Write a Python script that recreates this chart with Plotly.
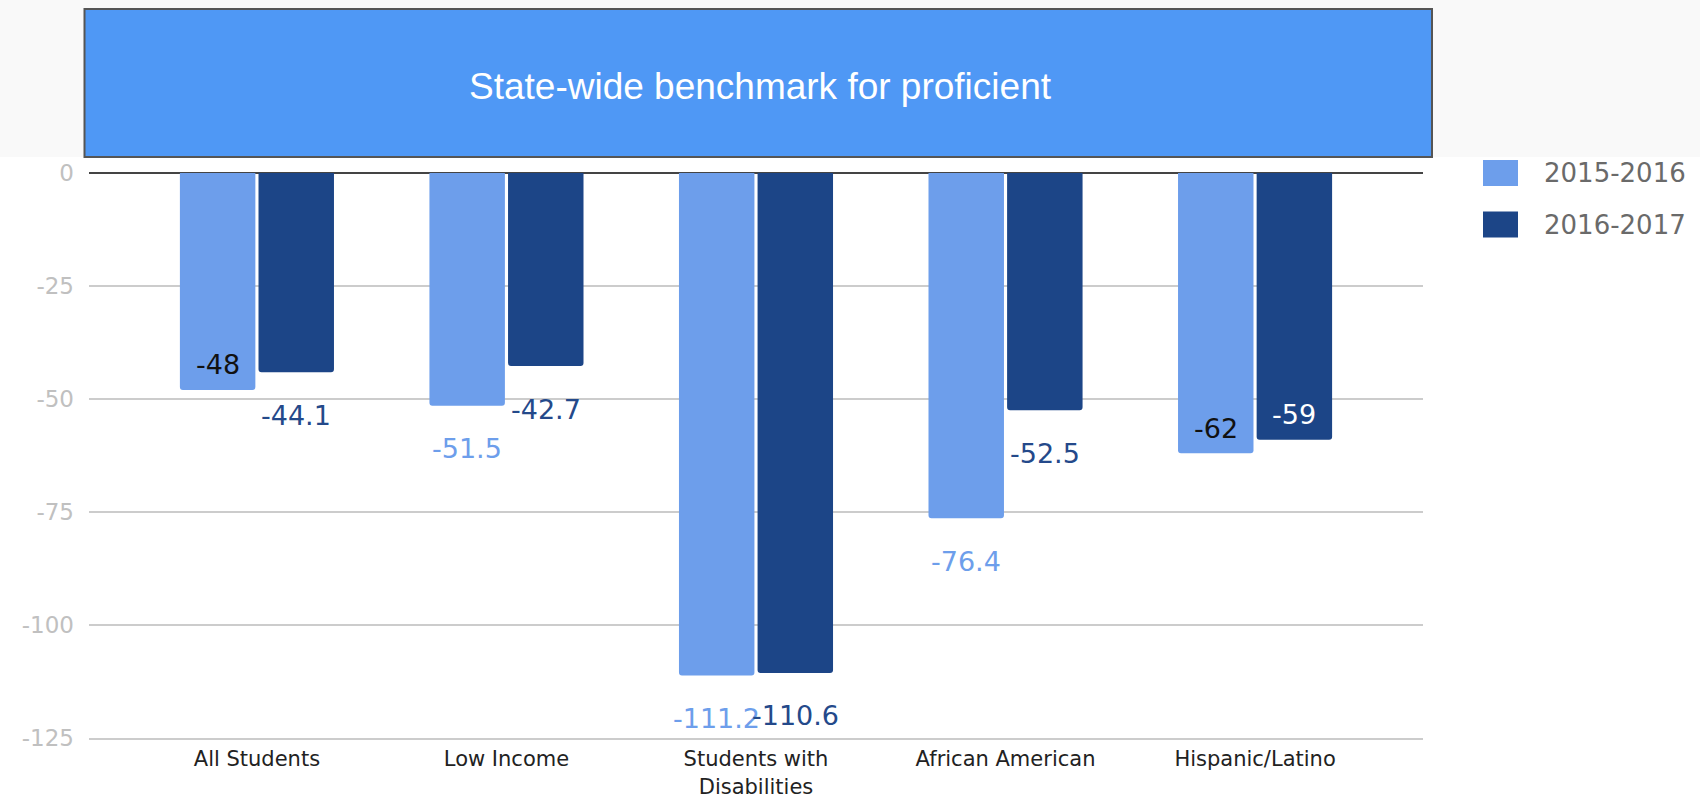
import plotly.graph_objects as go

# ---- data ----
categories = ["All Students", "Low Income", "Students with Disabilities",
              "African American", "Hispanic/Latino"]
x_tick_labels = ["All Students", "Low Income", "Students with<br>Disabilities",
                 "African American", "Hispanic/Latino"]
series_names = ["2015-2016", "2016-2017"]
values_2015_2016 = [-48, -51.5, -111.2, -76.4, -62]
values_2016_2017 = [-44.1, -42.7, -110.6, -52.5, -59]
y_tick_vals = [0, -25, -50, -75, -100, -125]
y_tick_text = ["0", "-25", "-50", "-75", "-100", "-125"]
banner_text = "State-wide benchmark for proficient"

# ---- styles ----
colors = ["#6d9eeb", "#1c4587"]
label_pos = [["inside", "outside", "outside", "outside", "inside"],
             ["outside", "outside", "outside", "outside", "inside"]]
inside_colors = ["#111111", "#ffffff"]
outside_colors = ["#6d9eeb", "#24498a"]

W, H = 1700, 801
ML, MR, MT, MB = 89, 277, 173, 63
PW, PH = W - ML - MR, H - MT - MB
BARGAP = 0.37
BARGROUPGAP = 0.04
XR = [-0.673, 4.673]
LABEL_FONT = "DejaVu Sans"

fig = go.Figure()
all_series = [values_2015_2016, values_2016_2017]
for k, (name, vals) in enumerate(zip(series_names, all_series)):
    fig.add_trace(go.Bar(
        x=categories, y=vals, name=name,
        marker=dict(color=colors[k], cornerradius=3, line=dict(width=0)),
        showlegend=False,
    ))

# data labels
annotations = []
offset = (1 - BARGAP) / 4
for k, vals in enumerate(all_series):
    for i, v in enumerate(vals):
        inside = label_pos[k][i] == "inside"
        annotations.append(dict(
            x=i + (-offset if k == 0 else offset), y=v, xref="x", yref="y",
            text=f"{v:g}", showarrow=False, xanchor="center", yanchor="middle",
            yshift=25 if inside else -43,
            font=dict(family=LABEL_FONT, size=27,
                      color=inside_colors[k] if inside else outside_colors[k]),
        ))

# banner text
annotations.append(dict(
    x=(760 - ML) / PW, y=1 + (MT - 86) / PH, xref="paper", yref="paper",
    text=banner_text, showarrow=False, xanchor="center", yanchor="middle",
    font=dict(family="Liberation Sans, Arial", size=37, color="#ffffff"),
))

# legend texts
legend_y = [173, 225]
for k, name in enumerate(series_names):
    annotations.append(dict(
        x=(1542 - ML) / PW, y=1 - (legend_y[k] - MT) / PH, xref="paper", yref="paper",
        text=name, showarrow=False, xanchor="left", yanchor="middle",
        font=dict(family=LABEL_FONT, size=26, color="#6a6a6a"),
    ))

shapes = []
# light top band
shapes.append(dict(type="rect", xref="paper", yref="paper",
                   xsizemode="pixel", ysizemode="pixel", xanchor=0, yanchor=1,
                   x0=-ML, x1=W - ML, y0=MT - 157, y1=MT + 2,
                   fillcolor="#f9f9f9", line=dict(width=0), layer="below"))
# banner box
shapes.append(dict(type="rect", xref="paper", yref="paper",
                   xsizemode="pixel", ysizemode="pixel", xanchor=0, yanchor=1,
                   x0=84.5 - ML, x1=1432 - ML, y0=MT - 157, y1=MT - 9,
                   fillcolor="#4f98f5", line=dict(color="#555555", width=2)))
# legend swatches
sw_top = [160, 211.5]
for k in range(2):
    shapes.append(dict(type="rect", xref="paper", yref="paper",
                       xsizemode="pixel", ysizemode="pixel", xanchor=0, yanchor=1,
                       x0=1483 - ML, x1=1518 - ML,
                       y0=MT - sw_top[k], y1=MT - sw_top[k] - 26,
                       fillcolor=colors[k], line=dict(width=0)))

fig.update_layout(
    width=W, height=H,
    margin=dict(l=ML, r=MR, t=MT, b=MB, pad=0, autoexpand=False),
    paper_bgcolor="#ffffff", plot_bgcolor="#ffffff",
    bargap=BARGAP, bargroupgap=BARGROUPGAP, barmode="group",
    annotations=annotations, shapes=shapes,
    showlegend=False,
    xaxis=dict(type="category", range=XR, tickvals=categories, ticktext=x_tick_labels,
               showgrid=False, showline=True, linecolor="#cccccc", linewidth=2,
               zeroline=False, ticks="", automargin=False,
               ticklabelstandoff=1,
               tickfont=dict(family=LABEL_FONT, size=21, color="#222222")),
    yaxis=dict(range=[-125, 0], tickvals=y_tick_vals, ticktext=y_tick_text,
               showgrid=True, gridcolor="#cccccc", gridwidth=2,
               zeroline=True, zerolinecolor="#444444", zerolinewidth=2,
               showline=False, ticks="", ticklabelstandoff=14, automargin=False,
               tickfont=dict(family=LABEL_FONT, size=23, color="#c0c0c0")),
)

fig.write_html("out.html", config={"displayModeBar": False},
               post_script="document.body.style.margin='0';document.body.style.overflow='hidden';")
